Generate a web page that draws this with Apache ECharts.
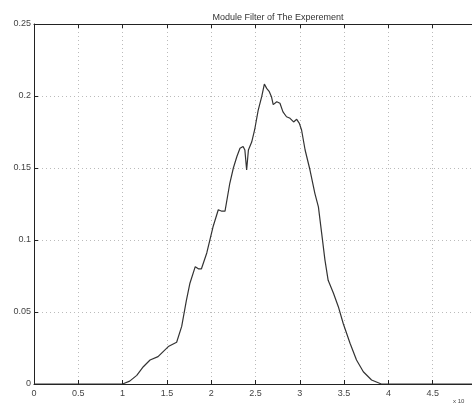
<!DOCTYPE html>
<html>
<head>
<meta charset="utf-8">
<script src="https://cdn.jsdelivr.net/npm/echarts@6/dist/echarts.min.js"></script>
<style>
html,body{margin:0;padding:0;background:#fff;}
#c{width:472px;height:408px;}
</style>
</head>
<body>
<div id="c"></div>
<script>
// x values in units of 10^4
var xs = [0, 1.0, 1.08, 1.16, 1.234, 1.31, 1.40, 1.516, 1.61, 1.667, 1.72, 1.76, 1.82, 1.855, 1.89, 1.95, 2.02, 2.08, 2.12, 2.156, 2.21, 2.25, 2.29, 2.325, 2.34, 2.36, 2.38, 2.40, 2.42, 2.457, 2.49, 2.53, 2.57, 2.60, 2.626, 2.656, 2.68, 2.70, 2.74, 2.776, 2.81, 2.85, 2.89, 2.93, 2.965, 2.995, 3.02, 3.06, 3.115, 3.17, 3.21, 3.247, 3.284, 3.32, 3.38, 3.435, 3.49, 3.567, 3.64, 3.717, 3.81, 3.92, 4.0, 5.0];
var ys = [0, 0, 0.002, 0.006, 0.012, 0.0167, 0.019, 0.026, 0.029, 0.040, 0.058, 0.070, 0.0815, 0.080, 0.080, 0.091, 0.109, 0.121, 0.120, 0.120, 0.1394, 0.150, 0.158, 0.1637, 0.1625, 0.165, 0.1625, 0.1486, 0.1625, 0.168, 0.1764, 0.190, 0.1995, 0.2083, 0.2053, 0.203, 0.1995, 0.194, 0.196, 0.195, 0.189, 0.1856, 0.1845, 0.182, 0.1838, 0.181, 0.1764, 0.1625, 0.1486, 0.1324, 0.123, 0.1046, 0.086, 0.072, 0.063, 0.0537, 0.042, 0.0283, 0.0167, 0.0085, 0.0028, 0, 0, 0];
var xTicks = ['0','0.5','1','1.5','2','2.5','3','3.5','4','4.5','5'];
var yTicks = ['0','0.05','0.1','0.15','0.2','0.25'];
var titleText = 'Module Filter of The Experement';
var exponentText = 'x 10';

var pts = xs.map(function(x, i){ return [x, ys[i]]; });
var chart = echarts.init(document.getElementById('c'), null, {renderer:'canvas'});
var font = 'Liberation Sans, Arial, sans-serif';
var gridLine = {show:true, lineStyle:{color:'#bbb', type:[1,3], width:1}};
chart.setOption({
  animation:false,
  backgroundColor:'#fff',
  title:{text:titleText, left:273, top:8, textAlign:'center',
    textStyle:{fontSize:9, fontWeight:'normal', color:'#333', fontFamily:font}},
  grid:{left:34, top:24, width:443, height:360, show:false, containLabel:false, outerBoundsMode:'none'},
  xAxis:[{
    type:'value', min:0, max:5, interval:0.5, position:'bottom',
    axisLine:{show:true, onZero:false, lineStyle:{color:'#222', width:1}},
    axisTick:{show:true, inside:true, length:4, lineStyle:{color:'#222'}},
    axisLabel:{color:'#444', fontSize:9, fontFamily:font, margin:5,
      formatter:function(v){ var i = Math.round(v/0.5); return xTicks[i] || ''; }},
    splitLine:gridLine
  },{
    type:'value', min:0, max:5, interval:0.5, position:'top',
    axisLine:{show:true, onZero:false, lineStyle:{color:'#222', width:1}},
    axisTick:{show:true, inside:true, length:4, lineStyle:{color:'#222'}},
    axisLabel:{show:false}, splitLine:{show:false}
  }],
  yAxis:[{
    type:'value', min:0, max:0.25, interval:0.05,
    axisLine:{show:true, onZero:false, lineStyle:{color:'#222', width:1}},
    axisTick:{show:true, inside:true, length:4, lineStyle:{color:'#222'}},
    axisLabel:{color:'#444', fontSize:9, fontFamily:font, margin:3,
      formatter:function(v){ var i = Math.round(v/0.05); return yTicks[i] || ''; }},
    splitLine:gridLine
  }],
  graphic:[{type:'text', left:453, top:398,
    style:{text:exponentText, fontSize:6, fill:'#444', fontFamily:font}}],
  series:[{
    type:'line', data:pts, xAxisIndex:0, yAxisIndex:0,
    showSymbol:false, smooth:false,
    lineStyle:{color:'#333', width:1.2}
  }]
});
</script>
</body>
</html>
